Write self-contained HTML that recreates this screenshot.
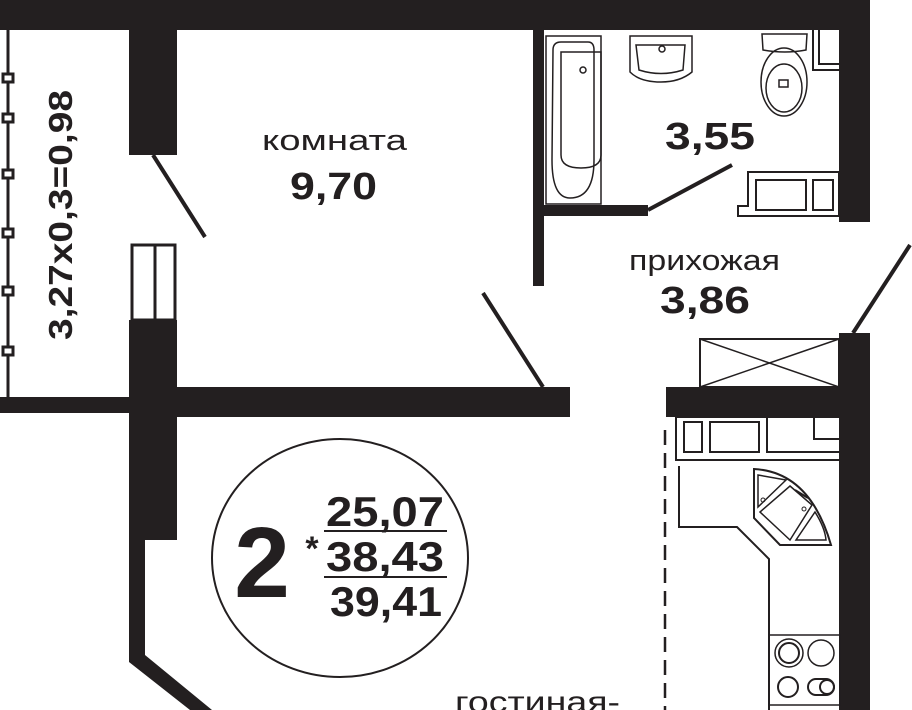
<!DOCTYPE html>
<html><head><meta charset="utf-8"><style>body{margin:0;background:#fff}svg{display:block}text{font-family:"Liberation Sans",sans-serif;fill:#231f20}</style></head><body>
<svg width="912" height="710" viewBox="0 0 912 710" xmlns="http://www.w3.org/2000/svg">
<g fill="#231f20">
<rect x="0" y="0" width="870" height="30"/>
<rect x="839" y="0" width="31" height="222"/>
<rect x="533" y="30" width="11" height="256"/>
<rect x="544" y="205" width="104" height="11"/>
<rect x="839" y="333" width="31" height="377"/>
<rect x="666" y="387" width="174" height="30"/>
<rect x="129" y="30" width="48" height="125"/>
<rect x="129" y="320" width="48" height="220"/>
<rect x="0" y="397" width="130" height="16"/>
<rect x="177" y="387" width="393" height="30"/>
<polygon points="129,540 145,540 145,655 212,710 190,710 129,662"/>
</g>
<g stroke="#231f20" fill="none">
<line x1="8" y1="30" x2="8" y2="397" stroke-width="3"/>
<g stroke-width="3" fill="#fff"><rect x="3" y="74" width="10" height="8"/><rect x="3" y="114" width="10" height="8"/><rect x="3" y="170" width="10" height="8"/><rect x="3" y="229" width="10" height="8"/><rect x="3" y="287" width="10" height="8"/><rect x="3" y="347" width="10" height="8"/></g>
<line x1="153" y1="155" x2="205" y2="237" stroke-width="4"/>
<rect x="132" y="245" width="43" height="75" stroke-width="3"/>
<line x1="155" y1="245" x2="155" y2="320" stroke-width="3"/>
<line x1="483" y1="293" x2="543" y2="387" stroke-width="4"/>
<line x1="648" y1="210" x2="732" y2="165" stroke-width="4"/>
<line x1="853" y1="333" x2="910" y2="245" stroke-width="4"/>
<rect x="700" y="339" width="139" height="48" stroke-width="2"/>
<line x1="700" y1="339" x2="839" y2="387" stroke-width="1.5"/><line x1="700" y1="387" x2="839" y2="339" stroke-width="1.5"/>
<rect x="546" y="36" width="55" height="168" stroke-width="1.5"/>
<path d="M553,50 Q553,42 561,42 L588,42 Q594,42 594,50 L594,160 Q594,198 570,198 Q552,198 552,160 Z" stroke-width="1.5"/>
<path d="M561,52 L601,52 L601,155 Q601,168 581,168 Q561,168 561,155 Z" stroke-width="1.5"/>
<circle cx="583" cy="70" r="3" stroke-width="1.5"/>
<path d="M630,36 L692,36 L692,72 Q680,82 661,82 Q640,82 630,72 Z" stroke-width="1.5"/>
<path d="M636,45 L685,45 L683,70 Q661,77 639,70 Z" stroke-width="1.5"/>
<circle cx="662" cy="49" r="3" stroke-width="1.5"/>
<path d="M762,34 L807,34 L806,50 Q785,54 763,50 Z" stroke-width="1.5"/>
<ellipse cx="784" cy="82" rx="23" ry="34" stroke-width="1.5"/>
<ellipse cx="784" cy="88" rx="18" ry="24" stroke-width="1.5"/>
<rect x="779" y="80" width="9" height="7" stroke-width="1.5"/>
<path d="M813,30 L813,70 L839,70 M819,30 L819,64 L839,64" stroke-width="2"/>
<path d="M738,216 L738,206 L748,206 L748,172 L839,172 L839,216 Z" stroke-width="2"/>
<rect x="756" y="180" width="50" height="30" stroke-width="2"/>
<rect x="813" y="180" width="20" height="30" stroke-width="2"/>
<rect x="676" y="417" width="164" height="43" stroke-width="2"/>
<rect x="684" y="422" width="18" height="30" stroke-width="2"/>
<rect x="710" y="422" width="49" height="30" stroke-width="2"/>
<path d="M767,417 L767,452 L840,452" stroke-width="2"/>
<path d="M814,417 L814,439 L840,439" stroke-width="2"/>
<line x1="665" y1="430" x2="665" y2="710" stroke-width="2.5" stroke-dasharray="15,8"/>
<path d="M679,466 L679,527 L737,527 L769,559 L769,710" stroke-width="2"/>
<path d="M754,469 Q810,472 831,545 L780,545 L754,518 Z" stroke-width="2"/>
<path d="M758,475 L786,480 L758,507 Z M790,486 L812,505 L790,540 L760,512 Z M815,512 Q825,528 826,540 L796,540 Z" stroke-width="1.5"/>
<line x1="795" y1="490" x2="808" y2="498" stroke-width="2"/>
<circle cx="763" cy="500" r="2" stroke-width="1"/><circle cx="804" cy="509" r="2" stroke-width="1"/>
<rect x="769" y="635" width="71" height="70" stroke-width="1.5"/>
<circle cx="789" cy="653" r="14" stroke-width="1.5"/><circle cx="789" cy="653" r="10" stroke-width="2"/>
<circle cx="821" cy="653" r="13" stroke-width="1.5"/>
<circle cx="788" cy="687" r="10" stroke-width="2"/>
<rect x="808" y="679" width="26" height="16" rx="8" stroke-width="2"/><circle cx="827" cy="687" r="7" stroke-width="2"/>
<ellipse cx="340" cy="558" rx="128" ry="119" stroke-width="2"/>
<line x1="324" y1="531" x2="447" y2="531" stroke-width="2"/>
<line x1="324" y1="577" x2="447" y2="577" stroke-width="2"/>
</g>
<text x="262" y="150" font-size="29" textLength="145" lengthAdjust="spacingAndGlyphs">комната</text>
<text x="290" y="199" font-size="38" font-weight="bold" textLength="87" lengthAdjust="spacingAndGlyphs">9,70</text>
<text x="665" y="149" font-size="38" font-weight="bold" textLength="90" lengthAdjust="spacingAndGlyphs">3,55</text>
<text x="629" y="270" font-size="29" textLength="151" lengthAdjust="spacingAndGlyphs">прихожая</text>
<text x="660" y="313" font-size="38" font-weight="bold" textLength="90" lengthAdjust="spacingAndGlyphs">3,86</text>
<text x="455" y="712" font-size="30" textLength="165" lengthAdjust="spacingAndGlyphs">гостиная-</text>
<text transform="translate(72,340) rotate(-90)" font-size="33" font-weight="bold" textLength="250" lengthAdjust="spacingAndGlyphs">3,27x0,3=0,98</text>
<text x="262" y="597" font-size="100" font-weight="bold" text-anchor="middle">2</text>
<text x="312" y="560" font-size="34" font-weight="bold" text-anchor="middle">*</text>
<text x="326" y="526" font-size="42" font-weight="bold" textLength="118" lengthAdjust="spacingAndGlyphs">25,07</text>
<text x="326" y="571" font-size="42" font-weight="bold" textLength="118" lengthAdjust="spacingAndGlyphs">38,43</text>
<text x="330" y="616" font-size="42" font-weight="bold" textLength="112" lengthAdjust="spacingAndGlyphs">39,41</text>
</svg>
</body></html>
